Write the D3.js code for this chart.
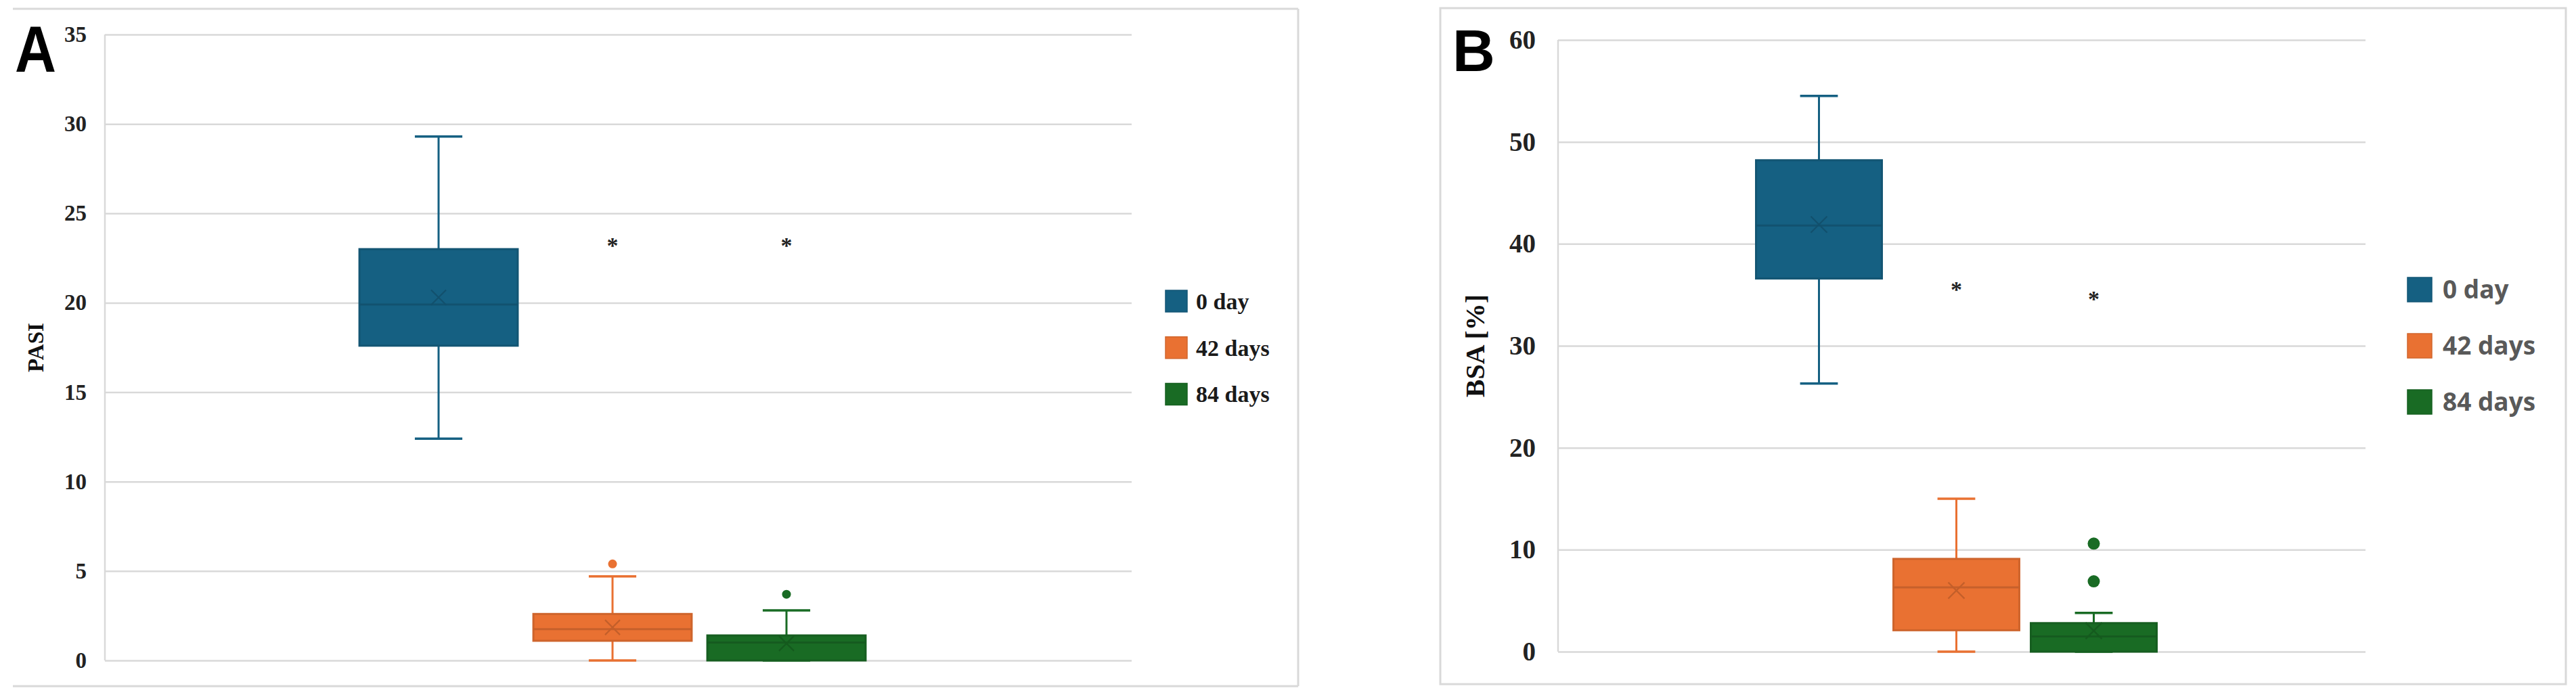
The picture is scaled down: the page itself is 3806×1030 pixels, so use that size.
<!DOCTYPE html>
<html><head><meta charset="utf-8">
<script src="https://cdn.jsdelivr.net/npm/d3@7"></script>
<style>body{margin:0;background:#fff}</style>
</head><body>
<svg id="chart" width="3806" height="1030"></svg>
<script>
// ---------- DATA ----------
const seriesNames = ["0 day", "42 days", "84 days"];
const seriesColors = ["#156082", "#E97132", "#196B24"];

// Panel A: PASI
const pasiMin     = [12.4, 0,    0];
const pasiQ1      = [17.6, 1.1,  0];
const pasiMedian  = [19.9, 1.75, 1.0];
const pasiQ3      = [23.0, 2.6,  1.4];
const pasiMax     = [29.3, 4.7,  2.8];
const pasiMean    = [20.3, 1.85, 0.95];
const pasiOutliers = [[], [5.4], [3.7]];
const pasiStars   = [null, 23.3, 23.3];
const pasiTicks   = [0, 5, 10, 15, 20, 25, 30, 35];

// Panel B: BSA
const bsaMin     = [26.3, 0,    0];
const bsaQ1      = [36.6, 2.1,  0];
const bsaMedian  = [41.8, 6.3,  1.5];
const bsaQ3      = [48.2, 9.1,  2.8];
const bsaMax     = [54.5, 15.0, 3.8];
const bsaMean    = [41.9, 6.0,  2.05];
const bsaOutliers = [[], [], [6.9, 10.6]];
const bsaStars   = [null, 35.7, 34.8];
const bsaTicks   = [0, 10, 20, 30, 40, 50, 60];

// ---------- LAYOUT ----------
const svg = d3.select("#chart");
svg.append("rect").attr("width", 3806).attr("height", 1030).attr("fill", "#fff");

const frameColor = "#d9d9d9";
// Panel A frame (top, right, bottom)
const fA = svg.append("g").attr("stroke", frameColor).attr("stroke-width", 3).attr("fill", "none");
fA.append("line").attr("x1", 19).attr("x2", 1918).attr("y1", 13).attr("y2", 13);
fA.append("line").attr("x1", 19).attr("x2", 1918).attr("y1", 1014).attr("y2", 1014);
fA.append("line").attr("x1", 1918).attr("x2", 1918).attr("y1", 13).attr("y2", 1014);
// Panel B frame
svg.append("rect").attr("x", 2128).attr("y", 12).attr("width", 3791 - 2128).attr("height", 1011 - 12)
  .attr("fill", "none").attr("stroke", frameColor).attr("stroke-width", 3);

function build(minA, q1A, medA, q3A, maxA, meanA, outA, starA) {
  return seriesNames.map((name, i) => ({
    name, color: seriesColors[i], min: minA[i], q1: q1A[i], median: medA[i], q3: q3A[i],
    max: maxA[i], mean: meanA[i], outliers: outA[i], star: starA[i]
  }));
}

function drawPanel(cfg, data, ticks) {
  const g = svg.append("g");
  const y = d3.scaleLinear().domain([0, d3.max(ticks)]).range([cfg.bottom, cfg.top]);
  const x = d3.scaleBand().domain(seriesNames).range([cfg.groupLeft, cfg.groupRight])
    .paddingInner(cfg.pad).paddingOuter(cfg.pad / 2);
  const bw = x.bandwidth();
  const cx = n => x(n) + bw / 2;

  // gridlines
  const grid = g.append("g").attr("transform", `translate(${cfg.plotLeft},0)`)
    .call(d3.axisLeft(y).tickValues(ticks).tickSize(-(cfg.plotRight - cfg.plotLeft)).tickFormat(""));
  grid.select(".domain").remove();
  grid.selectAll("line").attr("stroke", "#d9d9d9").attr("stroke-width", 2.5);

  // left axis line
  g.append("line").attr("x1", cfg.plotLeft).attr("x2", cfg.plotLeft)
    .attr("y1", y(d3.max(ticks))).attr("y2", y(0)).attr("stroke", "#d9d9d9").attr("stroke-width", 2.5);

  // tick labels
  const ax = g.append("g").attr("transform", `translate(${cfg.plotLeft},0)`)
    .call(d3.axisLeft(y).tickValues(ticks).tickSize(0).tickPadding(cfg.plotLeft - cfg.tickRight));
  ax.select(".domain").remove();
  ax.selectAll("text").attr("font-family", "'Liberation Serif', 'Times New Roman', serif")
    .attr("font-weight", "bold").attr("font-size", cfg.tickFont).attr("fill", "#222");

  // axis title
  g.append("text").attr("transform", `translate(${cfg.titleX},${(cfg.top + cfg.bottom) / 2}) rotate(-90)`)
    .attr("text-anchor", "middle").attr("dy", "0.35em")
    .attr("font-family", "'Liberation Serif', 'Times New Roman', serif").attr("font-weight", "bold")
    .attr("font-size", cfg.titleFont).attr("fill", "#111").text(cfg.title);

  // panel letter
  g.append("text").attr("transform", `translate(${cfg.letterX},${cfg.letterBaseline}) scale(${cfg.letterScale},1)`)
    .attr("font-family", "'Liberation Sans', Arial, sans-serif").attr("font-weight", "bold")
    .attr("font-size", cfg.letterFont).attr("fill", "#000").text(cfg.letter);

  // boxes
  const b = g.selectAll("g.box").data(data).join("g").attr("class", "box");
  // whiskers
  b.append("line").attr("x1", d => cx(d.name)).attr("x2", d => cx(d.name))
    .attr("y1", d => y(d.max)).attr("y2", d => y(d.q3)).attr("stroke", d => d.color).attr("stroke-width", cfg.lineW);
  b.append("line").attr("x1", d => cx(d.name)).attr("x2", d => cx(d.name))
    .attr("y1", d => y(d.q1)).attr("y2", d => y(d.min)).attr("stroke", d => d.color).attr("stroke-width", cfg.lineW);
  b.append("line").attr("x1", d => cx(d.name) - bw * 0.15).attr("x2", d => cx(d.name) + bw * 0.15)
    .attr("y1", d => y(d.max)).attr("y2", d => y(d.max)).attr("stroke", d => d.color).attr("stroke-width", cfg.lineW + 0.5);
  b.append("line").attr("x1", d => cx(d.name) - bw * 0.15).attr("x2", d => cx(d.name) + bw * 0.15)
    .attr("y1", d => y(d.min)).attr("y2", d => y(d.min)).attr("stroke", d => d.color).attr("stroke-width", cfg.lineW + 0.5);
  // box
  b.append("rect").attr("x", d => x(d.name)).attr("width", bw)
    .attr("y", d => y(d.q3)).attr("height", d => y(d.q1) - y(d.q3))
    .attr("fill", d => d.color).attr("stroke", d => d3.color(d.color).darker(0.35)).attr("stroke-width", 3);
  // median
  b.append("line").attr("x1", d => x(d.name)).attr("x2", d => x(d.name) + bw)
    .attr("y1", d => y(d.median)).attr("y2", d => y(d.median))
    .attr("stroke", d => d3.color(d.color).darker(0.45)).attr("stroke-width", 3);
  // mean X
  b.append("path").attr("d", d => {
      const mx = cx(d.name), my = y(d.mean), h = cfg.xHalf;
      return `M${mx - h},${my - h}L${mx + h},${my + h}M${mx - h},${my + h}L${mx + h},${my - h}`;
    })
    .attr("stroke", d => d3.color(d.color).darker(0.5)).attr("stroke-width", 2.2).attr("fill", "none");
  // outliers
  b.selectAll("circle").data(d => d.outliers.map(v => ({ v, d }))).join("circle")
    .attr("cx", o => cx(o.d.name)).attr("cy", o => y(o.v)).attr("r", cfg.dotR).attr("fill", o => o.d.color);
  // significance stars
  g.selectAll("text.star").data(data.filter(d => d.star != null)).join("text").attr("class", "star")
    .attr("x", d => cx(d.name)).attr("y", d => y(d.star)).attr("dy", "0.42em").attr("text-anchor", "middle")
    .attr("font-family", "'Liberation Serif', 'Times New Roman', serif").attr("font-weight", "bold")
    .attr("font-size", cfg.starFont).attr("fill", "#222").text("*");

  // legend
  const lg = g.selectAll("g.leg").data(data).join("g").attr("class", "leg")
    .attr("transform", (d, i) => `translate(${cfg.legendX},${cfg.legendTop + i * cfg.legendStep})`);
  lg.append("rect").attr("x", 0).attr("y", -cfg.legendSq / 2).attr("width", cfg.legendSq).attr("height", cfg.legendSq)
    .attr("fill", d => d.color).attr("stroke", d => d3.color(d.color).darker(0.3)).attr("stroke-width", 1.5);
  lg.append("text").attr("x", cfg.legendTextX - cfg.legendX).attr("y", 0).attr("dy", "0.35em")
    .attr("font-family", cfg.legendFamily).attr("font-weight", "bold").attr("font-size", cfg.legendFont)
    .attr("fill", cfg.legendColor).text(d => d.name);
}

drawPanel({
  plotLeft: 155, plotRight: 1672, top: 51, bottom: 976,
  groupLeft: 519.5, groupRight: 1290.5, pad: 0.09,
  tickFont: 33, tickRight: 128,
  titleX: 52, titleFont: 33, title: "PASI",
  letter: "A", letterX: 22, letterBaseline: 106, letterFont: 96, letterScale: 0.88,
  lineW: 3, xHalf: 11, dotR: 6.5, starFont: 34,
  legendX: 1722, legendSq: 32, legendTop: 445, legendStep: 68.75, legendTextX: 1767,
  legendFont: 34, legendFamily: "'Liberation Serif', 'Times New Roman', serif", legendColor: "#1a1a1a"
}, build(pasiMin, pasiQ1, pasiMedian, pasiQ3, pasiMax, pasiMean, pasiOutliers, pasiStars), pasiTicks);

drawPanel({
  plotLeft: 2302, plotRight: 3495, top: 59, bottom: 963,
  groupLeft: 2586, groupRight: 3195, pad: 0.084,
  tickFont: 39, tickRight: 2269,
  titleX: 2179, titleFont: 40, title: "BSA [%]",
  letter: "B", letterX: 2146, letterBaseline: 105, letterFont: 87, letterScale: 1,
  lineW: 3, xHalf: 12, dotR: 9, starFont: 34,
  legendX: 3557, legendSq: 36, legendTop: 428, legendStep: 83, legendTextX: 3609,
  legendFont: 37, legendFamily: "'Open Sans', 'Noto Sans', sans-serif", legendColor: "#595959"
}, build(bsaMin, bsaQ1, bsaMedian, bsaQ3, bsaMax, bsaMean, bsaOutliers, bsaStars), bsaTicks);
</script>
</body></html>
